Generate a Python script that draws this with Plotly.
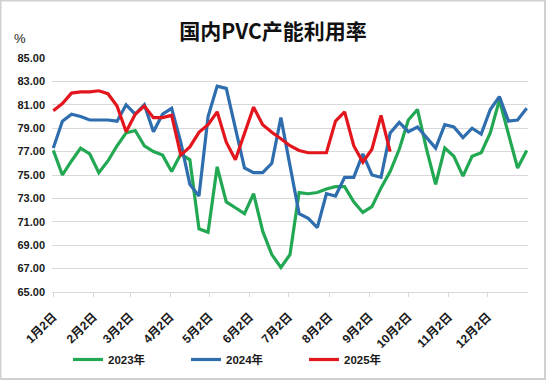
import pandas as pd
import plotly.graph_objects as go

# ---- data ----
dates = pd.date_range(start="2023-01-02", periods=53, freq="7D")

v2023 = [77.1, 75.0, 76.2, 77.3, 76.8, 75.2, 76.2, 77.5, 78.6, 78.8,
         77.5, 77.0, 76.7, 75.3, 76.8, 76.3, 70.4, 70.1, 75.7, 72.7,
         72.2, 71.7, 73.4, 70.2, 68.2, 67.1, 68.2, 73.5, 73.4, 73.5,
         73.8, 74.0, 74.0, 72.7, 71.8, 72.3, 73.9, 75.3, 77.2, 79.7,
         80.6, 77.2, 74.2, 77.3, 76.6, 74.9, 76.6, 76.9, 78.6, 81.4,
         78.5, 75.6, 77.1]

v2024 = [77.3, 79.6, 80.2, 80.0, 79.7, 79.7, 79.7, 79.6, 81.0, 80.2,
         81.0, 78.7, 80.2, 80.7, 77.8, 74.2, 73.2, 80.0, 82.6, 82.4,
         79.0, 75.6, 75.2, 75.2, 76.0, 79.9, 75.8, 71.7, 71.3, 70.5,
         73.4, 73.2, 74.8, 74.8, 76.8, 75.0, 74.8, 78.6, 79.5, 78.7,
         79.1, 78.2, 77.3, 79.3, 79.1, 78.2, 79.0, 78.5, 80.6, 81.7,
         79.6, 79.7, 80.7]

v2025 = [80.5, 81.1, 82.0, 82.1, 82.1, 82.2, 81.95, 80.9, 78.7, 80.2,
         80.9, 79.9, 79.9, 80.1, 76.7, 77.4, 78.65, 79.3, 80.4, 77.8,
         76.3, 78.5, 80.8, 79.3, 78.65, 78.1, 77.5, 77.1, 76.9, 76.9,
         76.9, 79.6, 80.4, 77.5, 76.1, 77.2, 80.1, 77.0]

series_names = ["2023年", "2024年", "2025年"]
series_values = [v2023, v2024, v2025]
series_colors = ["#22A853", "#2E6DAE", "#E3161E"]

tick_months = list(range(1, 13))
tick_vals = [f"2023-{m:02d}-02" for m in tick_months]
tick_text = [f"{m}月2日" for m in tick_months]

title_text = "国内PVC产能利用率"
unit_text = "%"

# ---- figure ----
FONT = "Liberation Sans, Arial, Noto Sans CJK SC"
W, H = 546, 380
ML, MR, MT, MB = 52, 18, 58, 88
PW = W - ML - MR
PH = H - MT - MB

fig = go.Figure()
for name, vals, col in zip(series_names, series_values, series_colors):
    fig.add_trace(go.Scatter(
        x=dates[:len(vals)], y=vals, name=name, mode="lines",
        line=dict(color=col, width=3.2),
    ))

fig.update_layout(
    width=W, height=H, autosize=False,
    margin=dict(l=ML, r=MR, t=MT, b=MB, autoexpand=False),
    paper_bgcolor="white", plot_bgcolor="white",
    font=dict(family=FONT, color="#1a1a1a"),
    title=dict(text=title_text, x=0.5, xanchor="center", xref="container",
               y=1 - 32 / H, yanchor="middle", yref="container",
               font=dict(family="Noto Sans CJK SC", size=21, color="#111", weight="bold")),
    showlegend=True,
    legend=dict(orientation="h", x=(68 - ML) / PW, xanchor="left",
                y=-(359.5 - (MT + PH)) / PH, yanchor="middle",
                entrywidth=73, entrywidthmode="pixels",
                font=dict(family=FONT, size=11.5, color="#1a1a1a", weight="bold"),
                bgcolor="rgba(0,0,0,0)"),
)

fig.update_xaxes(
    type="date", range=["2023-01-01", "2024-01-02"], automargin=False,
    tickmode="array", tickvals=tick_vals, ticktext=tick_text,
    tickangle=-45, tickfont=dict(family=FONT, size=12, color="#1a1a1a", weight="bold"),
    showgrid=False, showline=True, linecolor="#d9d9d9", linewidth=1,
    ticks="outside", ticklen=4, tickcolor="#d9d9d9", zeroline=False,
    ticklabelstandoff=8,
)
fig.update_yaxes(
    range=[65, 85], dtick=2, tick0=65, tickformat=".2f", automargin=False,
    tickfont=dict(family=FONT, size=11, color="#1a1a1a", weight="bold"),
    showgrid=True, gridcolor="#d9d9d9", gridwidth=1, zeroline=False,
    showline=False, ticks="", ticklabelstandoff=6,
)

fig.add_annotation(text=unit_text, xref="paper", yref="paper",
                   x=(20 - ML) / PW, y=(MT + PH - 38) / PH,
                   showarrow=False, xanchor="center", yanchor="middle",
                   font=dict(family=FONT, size=13, color="#1a1a1a"))

# chart-area border
fig.add_shape(type="rect", xref="paper", yref="paper",
              x0=(0.5 - ML) / PW, x1=(W - 1 - ML) / PW,
              y0=-(MB - 1) / PH, y1=(PH + MT - 0.5) / PH,
              line=dict(color="#d0d0d0", width=2), layer="below")

fig.write_html("out.html",
               config={"displayModeBar": False},
               post_script="document.body.style.margin='0px';document.body.style.overflow='hidden';")
